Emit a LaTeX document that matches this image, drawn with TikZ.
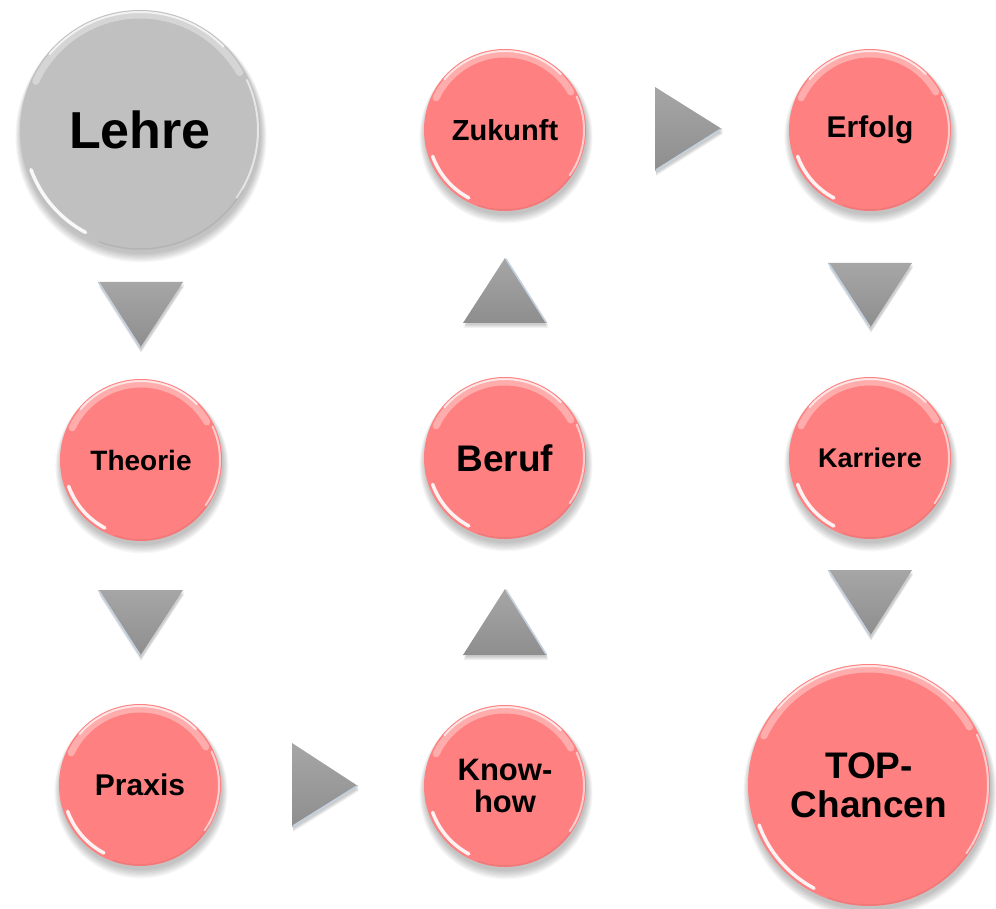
\documentclass[tikz,border=0pt]{standalone}
\usepackage{fontspec}
\setmainfont{Liberation Sans}
\definecolor{pinkc}{HTML}{FF8080}
\definecolor{greyc}{HTML}{C0C0C0}
\definecolor{triT}{HTML}{A6A6A6}
\definecolor{triB}{HTML}{8E8E8E}
\definecolor{triEdge}{HTML}{C4D2E0}
\tikzset{
  ballnode/.style={circle, inner sep=0pt, align=center, text=black},
  rimlight/.style={white, line cap=round},
  trishade/.style={top color=triT, bottom color=triB, draw=none},
  trishadow/.style={fill=black, opacity=0.05, draw=none},
  triedge/.style={draw=triEdge, line width=1.6pt, line cap=round}
}
% #1 name, #2 x, #3 y, #4 radius, #5 fill, #6 font size, #7 baselineskip, #8 text
\newcommand\myball[8]{%
  \foreach \k in {0,...,7}{\fill[black,opacity=0.03] (#2+1,#3+4+\k*0.4) circle[radius={#4pt+\k*0.8pt}];}
  \node[ballnode, fill=#5, minimum size={2*#4pt}, font=\fontsize{#6}{#7}\selectfont\bfseries] (#1) at (#2,#3) {#8};
  \draw[rimlight, opacity=0.35, line width=7pt] ([shift={(30:#4pt-5pt)}]#1.center) arc[start angle=30, end angle=155, radius={#4pt-5pt}];
  \draw[rimlight, opacity=0.7, line width=2pt] ([shift={(45:#4pt-2pt)}]#1.center) arc[start angle=45, end angle=140, radius={#4pt-2pt}];
  \draw[rimlight, opacity=0.9, line width=3.5pt] ([shift={(200:#4pt-4pt)}]#1.center) arc[start angle=200, end angle=242, radius={#4pt-4pt}];
  \draw[rimlight, opacity=0.6, line width=2pt] ([shift={(-35:#4pt-2pt)}]#1.center) arc[start angle=-35, end angle=25, radius={#4pt-2pt}];
  \draw[black, opacity=0.06, line width=1.5pt] ([shift={(250:#4pt-1pt)}]#1.center) arc[start angle=250, end angle=330, radius={#4pt-1pt}];
}
% #1,#2,#3 corners x,y ; #4 #5 light edge endpoints x,y
\newcommand\mytri[5]{%
  \foreach \s in {2,3,4,5}{\fill[trishadow] ([shift={(1pt,-\s pt)}]#1) -- ([shift={(1pt,-\s pt)}]#2) -- ([shift={(1pt,-\s pt)}]#3) -- cycle;}
  \shade[trishade] (#1) -- (#2) -- (#3) -- cycle;
  \draw[triedge] (#4) -- (#5);
}
\begin{document}
\begin{tikzpicture}[x=1pt,y=-1pt]
\useasboundingbox (0,0) rectangle (996,909);
\fill[white] (0,0) rectangle (996,909);
% triangles
\mytri{98,282}{183,282}{140,348}{99,283}{140,347}
\mytri{98,590}{183,590}{140,656}{99,591}{140,655}
\mytri{292,743}{292,827}{358,786}{293,826}{357,786}
\mytri{463,655}{547,655}{505,589}{546,654}{506,590}
\mytri{463,323}{547,323}{505,258}{546,322}{506,259}
\mytri{655,87}{655,171}{722,129}{656,170}{721,129}
\mytri{828,263}{912,263}{870,328}{829,264}{870,327}
\mytri{828,570}{912,570}{870,636}{829,571}{870,635}
% balls
\myball{lehre}{140}{130}{120}{greyc}{52}{56}{Lehre}
\myball{theorie}{141}{460}{81}{pinkc}{28}{30}{Theorie}
\myball{praxis}{140}{785}{81}{pinkc}{30}{32}{Praxis}
\myball{knowhow}{505}{786}{81}{pinkc}{31}{32}{Know-\\how}
\myball{beruf}{505}{458}{81}{pinkc}{37}{40}{Beruf}
\myball{zukunft}{505}{130}{81}{pinkc}{29}{31}{Zukunft}
\myball{erfolg}{870}{130}{81}{pinkc}{30}{32}{Erfolg}
\myball{karriere}{870}{458}{81}{pinkc}{27}{29}{Karriere}
\myball{top}{869}{785}{121}{pinkc}{37}{39}{TOP-\\Chancen}
\end{tikzpicture}
\end{document}
